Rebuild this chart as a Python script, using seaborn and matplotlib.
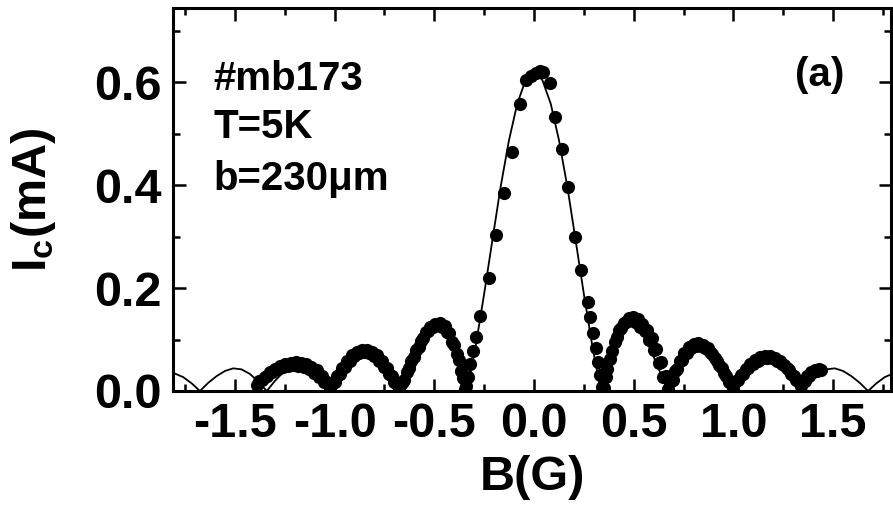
import numpy as np
import pandas as pd
import matplotlib
matplotlib.use("Agg")
import matplotlib.pyplot as plt
import seaborn as sns
from matplotlib.ticker import MultipleLocator

sns.set_theme(style="ticks")
plt.rcParams['font.family'] = ['Liberation Sans', 'DejaVu Sans']
plt.rcParams['font.weight'] = 'bold'
plt.rcParams['mathtext.default'] = 'regular'
plt.rcParams['axes.unicode_minus'] = False
plt.rcParams['text.color'] = 'black'
plt.rcParams['axes.labelcolor'] = 'black'
plt.rcParams['xtick.color'] = 'black'
plt.rcParams['ytick.color'] = 'black'

# ---- fit curve (solid line) ----
fit_B = [-1.801, -1.759, -1.717, -1.675, -1.633, -1.591, -1.549, -1.508, -1.466, -1.424,
         -1.382, -1.340, -1.298, -1.256, -1.214, -1.173, -1.131, -1.089, -1.047, -1.005,
         -0.963, -0.921, -0.879, -0.838, -0.796, -0.754, -0.712, -0.670, -0.628, -0.586,
         -0.544, -0.503, -0.461, -0.419, -0.377, -0.335, -0.293, -0.251, -0.209, -0.168,
         -0.126, -0.084, -0.042,
         0.000,
         0.042, 0.084, 0.126, 0.168, 0.209, 0.251, 0.293, 0.335, 0.377, 0.419,
         0.461, 0.503, 0.544, 0.586, 0.628, 0.670, 0.712, 0.754, 0.796, 0.838,
         0.879, 0.921, 0.963, 1.005, 1.047, 1.089, 1.131, 1.173, 1.214, 1.256,
         1.298, 1.340, 1.382, 1.424, 1.466, 1.508, 1.549, 1.591, 1.633, 1.675,
         1.717, 1.759, 1.801]
fit_Ic = [0.034, 0.027, 0.015, 0.000, 0.016, 0.029, 0.039, 0.044, 0.042, 0.033,
          0.018, 0.000, 0.020, 0.037, 0.050, 0.056, 0.054, 0.043, 0.024, 0.000,
          0.026, 0.051, 0.070, 0.079, 0.077, 0.062, 0.036, 0.000, 0.040, 0.080,
          0.112, 0.132, 0.133, 0.112, 0.067, 0.000, 0.086, 0.186, 0.292, 0.395,
          0.486, 0.558, 0.604,
          0.620,
          0.604, 0.558, 0.486, 0.395, 0.292, 0.186, 0.086, 0.000, 0.067, 0.112,
          0.133, 0.132, 0.112, 0.080, 0.040, 0.000, 0.036, 0.062, 0.077, 0.079,
          0.070, 0.051, 0.026, 0.000, 0.024, 0.043, 0.054, 0.056, 0.050, 0.037,
          0.020, 0.000, 0.018, 0.033, 0.042, 0.044, 0.039, 0.029, 0.016, 0.000,
          0.015, 0.027, 0.034]

# ---- measured points, sweep 1 ----
data_B = [
    -1.390, -1.364, -1.338, -1.312, -1.286, -1.260, -1.233, -1.207, -1.181, -1.155,
    -1.129, -1.103, -1.077, -1.051, -1.025,
    -1.000, -0.975, -0.950, -0.925, -0.900, -0.875, -0.850, -0.825, -0.800, -0.775,
    -0.750, -0.725, -0.700, -0.675,
    -0.651, -0.627, -0.603, -0.579, -0.555, -0.531, -0.507, -0.484, -0.460, -0.436,
    -0.412, -0.388, -0.364, -0.345,
    -0.342, -0.333, -0.320, -0.308, -0.292, -0.270, -0.228, -0.192, -0.150, -0.108,
    -0.072, -0.042, -0.015, 0.008, 0.030, 0.045, 0.078, 0.105, 0.138, 0.172,
    0.205, 0.238, 0.269, 0.282, 0.296, 0.309, 0.320, 0.332, 0.342,
    0.350, 0.368, 0.392, 0.415, 0.438, 0.462, 0.485, 0.508, 0.532, 0.555,
    0.579, 0.602, 0.625, 0.649, 0.672,
    0.695, 0.719, 0.742, 0.766, 0.789, 0.812, 0.836, 0.859, 0.883, 0.906,
    0.930, 0.953, 0.977, 1.000,
    1.024, 1.049, 1.073, 1.097, 1.121, 1.146, 1.170, 1.194, 1.219, 1.243,
    1.267, 1.291, 1.316, 1.340,
    1.360, 1.380, 1.400, 1.420, 1.440]
data_Ic = [
    0.012, 0.021, 0.029, 0.036, 0.042, 0.046, 0.049, 0.050, 0.049, 0.046,
    0.042, 0.035, 0.027, 0.017, 0.006,
    0.017, 0.033, 0.047, 0.059, 0.068, 0.073, 0.075, 0.073, 0.068, 0.059,
    0.047, 0.033, 0.017, 0.003,
    0.022, 0.044, 0.066, 0.086, 0.103, 0.116, 0.125, 0.128, 0.125, 0.114,
    0.096, 0.071, 0.039, 0.004,
    0.010, 0.028, 0.052, 0.078, 0.104, 0.146, 0.219, 0.303, 0.384, 0.465,
    0.557, 0.605, 0.612, 0.618, 0.622, 0.620, 0.599, 0.533, 0.471, 0.397,
    0.300, 0.236, 0.173, 0.144, 0.112, 0.083, 0.057, 0.031, 0.008,
    0.006, 0.042, 0.077, 0.104, 0.123, 0.134, 0.138, 0.135, 0.125, 0.117,
    0.100, 0.079, 0.054, 0.027, 0.004,
    0.022, 0.042, 0.060, 0.074, 0.083, 0.088, 0.087, 0.083, 0.075, 0.064,
    0.050, 0.035, 0.018, 0.005,
    0.021, 0.033, 0.044, 0.053, 0.059, 0.064, 0.065, 0.064, 0.059, 0.053,
    0.044, 0.033, 0.021, 0.010,
    0.020, 0.030, 0.036, 0.039, 0.040]

# ---- measured points, sweep 2 (side lobes, slightly offset) ----
data2_B = [
    -1.377, -1.351, -1.325, -1.299, -1.273, -1.246, -1.220, -1.194, -1.168, -1.142,
    -1.116, -1.090, -1.064, -1.038,
    -1.012, -0.987, -0.962, -0.937, -0.912, -0.887, -0.862, -0.837, -0.812, -0.787,
    -0.762, -0.737, -0.712, -0.687,
    -0.663, -0.639, -0.615, -0.591, -0.567, -0.543, -0.519, -0.495, -0.472, -0.448,
    -0.424, -0.400, -0.376, -0.355,
    0.359, 0.380, 0.404, 0.427, 0.450, 0.474, 0.497, 0.520, 0.544, 0.567,
    0.591, 0.614, 0.637, 0.661,
    0.684, 0.707, 0.731, 0.754, 0.778, 0.801, 0.824, 0.848, 0.871, 0.895,
    0.918, 0.942, 0.965, 0.989,
    1.012, 1.037, 1.061, 1.085, 1.109, 1.134, 1.158, 1.182, 1.207, 1.231,
    1.255, 1.279, 1.304, 1.328,
    1.350, 1.370, 1.390, 1.410, 1.430]
data2_Ic = [
    0.020, 0.028, 0.036, 0.043, 0.048, 0.052, 0.055, 0.056, 0.055, 0.052,
    0.047, 0.040, 0.030, 0.018,
    0.014, 0.030, 0.045, 0.058, 0.069, 0.076, 0.080, 0.080, 0.076, 0.069,
    0.058, 0.045, 0.030, 0.013,
    0.016, 0.037, 0.058, 0.079, 0.098, 0.114, 0.125, 0.131, 0.132, 0.126,
    0.112, 0.090, 0.060, 0.026,
    0.028, 0.063, 0.095, 0.118, 0.133, 0.141, 0.143, 0.139, 0.131, 0.119,
    0.102, 0.081, 0.056, 0.030,
    0.017, 0.038, 0.058, 0.074, 0.085, 0.091, 0.093, 0.090, 0.083, 0.072,
    0.059, 0.044, 0.029, 0.015,
    0.019, 0.031, 0.043, 0.053, 0.061, 0.066, 0.068, 0.068, 0.064, 0.058,
    0.050, 0.040, 0.029, 0.018,
    0.020, 0.030, 0.037, 0.041, 0.042]

x_ticks = [-1.5, -1.0, -0.5, 0.0, 0.5, 1.0, 1.5]
x_ticklabels = ["-1.5", "-1.0", "-0.5", "0.0", "0.5", "1.0", "1.5"]
y_ticks = [0.0, 0.2, 0.4, 0.6]
y_ticklabels = ["0.0", "0.2", "0.4", "0.6"]

fit_df = pd.DataFrame({"B": fit_B, "Ic": fit_Ic})
data_df = pd.DataFrame({"B": data_B + data2_B, "Ic": data_Ic + data2_Ic})

fig = plt.figure(figsize=(8.93, 5.05), dpi=100)
ax = fig.add_axes([173 / 893, 1 - 391 / 505, (891 - 173) / 893, (391 - 8) / 505])

sns.lineplot(data=fit_df, x="B", y="Ic", ax=ax, color="black", linewidth=1.3,
             sort=False, estimator=None)
sns.scatterplot(data=data_df, x="B", y="Ic", ax=ax, color="black", s=90,
                linewidth=0, edgecolor="black", zorder=3)

ax.set_xlim(-1.81, 1.79)
ax.set_ylim(0.0, 0.744)

ax.set_xticks(x_ticks)
ax.set_xticklabels(x_ticklabels)
ax.set_yticks(y_ticks)
ax.set_yticklabels(y_ticklabels)
ax.xaxis.set_minor_locator(MultipleLocator(0.25))
ax.yaxis.set_minor_locator(MultipleLocator(0.1))

ax.tick_params(which="both", direction="in", top=True, right=True, colors="black",
               labelcolor="black", labelsize=35, width=1.8)
ax.tick_params(which="major", length=9, pad=8)
ax.tick_params(which="minor", length=5)
for s in ax.spines.values():
    s.set_linewidth(2.2)
    s.set_color("black")

ax.set_xlabel("B(G)", fontsize=35, labelpad=6, fontweight="bold", color="black")
ax.set_ylabel("I$_c$(mA)", fontsize=35, labelpad=26, fontweight="bold", color="black")

fig.text(213 / 893, 1 - 90 / 505, "#mb173", fontsize=29, va="baseline", ha="left",
         fontweight="bold", color="black")
fig.text(213 / 893, 1 - 138 / 505, "T=5K", fontsize=29, va="baseline", ha="left",
         fontweight="bold", color="black")
fig.text(213 / 893, 1 - 190 / 505, "b=230\u03bcm", fontsize=29, va="baseline", ha="left",
         fontweight="bold", color="black")
fig.text(820 / 893, 1 - 75 / 505, "(a)", fontsize=29, va="center", ha="center",
         fontweight="bold", color="black")

fig.savefig("out.png", dpi=100, facecolor="white")
